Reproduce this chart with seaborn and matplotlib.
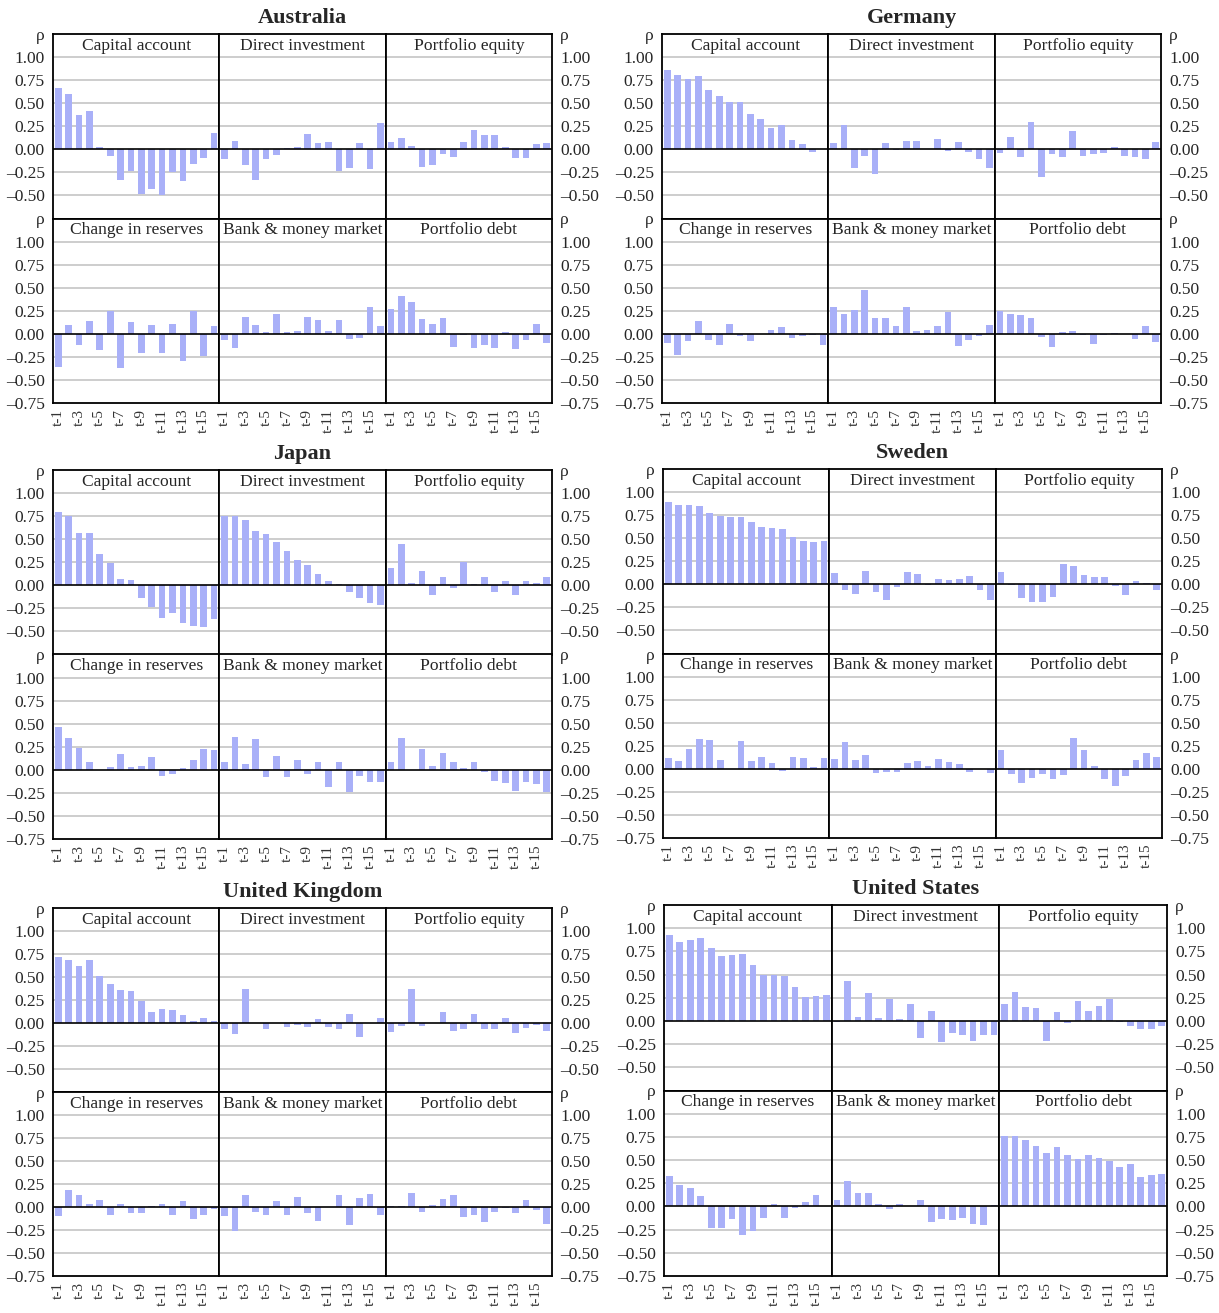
import matplotlib
matplotlib.use("Agg")
import matplotlib.pyplot as plt
import seaborn as sns
import pandas as pd

sns.set_style("white")
plt.rcParams['font.family'] = ['Liberation Serif', 'DejaVu Serif']

lags = [f"t-{i}" for i in range(1, 17)]
categories = ["Capital account", "Direct investment", "Portfolio equity",
              "Change in reserves", "Bank & money market", "Portfolio debt"]

# autocorrelations (rho) by lag
australia = {
    "Capital account": [0.66, 0.60, 0.37, 0.42, 0.02, -0.07, -0.33, -0.23, -0.48, -0.43, -0.50, -0.25, -0.34, -0.16, -0.09, 0.18],
    "Direct investment": [-0.10, 0.09, -0.17, -0.33, -0.11, -0.06, 0.01, 0.03, 0.17, 0.07, 0.08, -0.24, -0.20, 0.07, -0.21, 0.28],
    "Portfolio equity": [0.08, 0.12, 0.04, -0.19, -0.17, -0.05, -0.08, 0.08, 0.21, 0.16, 0.15, 0.02, -0.09, -0.09, 0.06, 0.07],
    "Change in reserves": [-0.36, 0.10, -0.12, 0.14, -0.18, 0.25, -0.37, 0.13, -0.21, 0.10, -0.21, 0.11, -0.29, 0.25, -0.24, 0.09],
    "Bank & money market": [-0.07, -0.15, 0.18, 0.10, 0.015, 0.21, 0.025, 0.035, 0.18, 0.145, 0.035, 0.145, -0.06, -0.05, 0.29, 0.09],
    "Portfolio debt": [0.27, 0.41, 0.34, 0.16, 0.11, 0.17, -0.14, -0.01, -0.15, -0.12, -0.15, 0.02, -0.16, -0.07, 0.11, -0.10],
}
germany = {
    "Capital account": [0.86, 0.81, 0.765, 0.80, 0.645, 0.58, 0.515, 0.515, 0.385, 0.33, 0.235, 0.265, 0.10, 0.058, -0.03, 0.0],
    "Direct investment": [0.07, 0.26, -0.20, -0.07, -0.27, 0.07, -0.01, 0.09, 0.09, 0.0, 0.11, -0.02, 0.08, -0.03, -0.11, -0.20],
    "Portfolio equity": [-0.04, 0.13, -0.08, 0.30, -0.30, -0.05, -0.08, 0.20, -0.07, -0.05, -0.04, 0.03, -0.07, -0.08, -0.11, 0.08],
    "Change in reserves": [-0.10, -0.23, -0.08, 0.14, -0.07, -0.12, 0.11, -0.02, -0.08, 0.0, 0.04, 0.07, -0.05, -0.02, -0.01, -0.12],
    "Bank & money market": [0.29, 0.22, 0.26, 0.47, 0.17, 0.17, 0.09, 0.29, 0.03, 0.04, 0.08, 0.24, -0.13, -0.07, -0.02, 0.10],
    "Portfolio debt": [0.25, 0.22, 0.20, 0.17, -0.03, -0.14, 0.02, 0.03, -0.01, -0.11, -0.01, 0.01, 0.0, -0.06, 0.08, -0.09],
}
japan = {
    "Capital account": [0.79, 0.75, 0.565, 0.565, 0.34, 0.24, 0.065, 0.055, -0.14, -0.24, -0.355, -0.30, -0.41, -0.44, -0.45, -0.37],
    "Direct investment": [0.75, 0.75, 0.71, 0.59, 0.555, 0.47, 0.37, 0.27, 0.22, 0.12, 0.045, 0.01, -0.07, -0.14, -0.19, -0.21],
    "Portfolio equity": [0.185, 0.445, 0.02, 0.15, -0.10, 0.09, -0.03, 0.25, 0.01, 0.09, -0.07, 0.045, -0.10, 0.045, 0.03, 0.09],
    "Change in reserves": [0.46, 0.35, 0.24, 0.09, 0.0, 0.03, 0.17, 0.03, 0.04, 0.14, -0.07, -0.04, 0.02, 0.11, 0.23, 0.21],
    "Bank & money market": [0.08, 0.36, 0.065, 0.33, -0.08, 0.15, -0.08, 0.11, -0.04, 0.08, -0.19, 0.08, -0.24, -0.07, -0.13, -0.13],
    "Portfolio debt": [0.08, 0.35, 0.0, 0.23, 0.04, 0.185, 0.08, 0.02, 0.09, -0.02, -0.12, -0.14, -0.23, -0.13, -0.15, -0.24],
}
sweden = {
    "Capital account": [0.895, 0.86, 0.86, 0.85, 0.775, 0.745, 0.73, 0.73, 0.68, 0.62, 0.61, 0.60, 0.515, 0.47, 0.46, 0.47],
    "Direct investment": [0.12, -0.06, -0.11, 0.145, -0.08, -0.165, -0.03, 0.135, 0.11, -0.01, 0.06, 0.05, 0.06, 0.09, -0.06, -0.165],
    "Portfolio equity": [0.135, -0.01, -0.145, -0.19, -0.19, -0.14, 0.22, 0.20, 0.10, 0.08, 0.08, -0.02, -0.12, 0.035, 0.015, -0.06],
    "Change in reserves": [0.12, 0.09, 0.22, 0.325, 0.315, 0.10, 0.0, 0.30, 0.09, 0.13, 0.065, -0.02, 0.13, 0.12, 0.02, 0.12],
    "Bank & money market": [0.11, 0.29, 0.10, 0.15, -0.04, -0.03, -0.03, 0.065, 0.09, 0.03, 0.11, 0.075, 0.055, -0.03, 0.0, -0.05],
    "Portfolio debt": [0.20, -0.06, -0.15, -0.10, -0.06, -0.11, -0.07, 0.335, 0.20, 0.03, -0.11, -0.19, -0.08, 0.10, 0.17, 0.13],
}
united_kingdom = {
    "Capital account": [0.72, 0.685, 0.62, 0.685, 0.51, 0.425, 0.36, 0.35, 0.24, 0.12, 0.15, 0.14, 0.09, 0.02, 0.055, 0.02],
    "Direct investment": [-0.06, -0.12, 0.37, 0.0, -0.07, 0.0, -0.04, -0.02, -0.04, 0.045, -0.04, -0.06, 0.10, -0.15, 0.0, 0.055],
    "Portfolio equity": [-0.10, -0.03, 0.37, -0.03, 0.0, 0.12, -0.09, -0.06, 0.10, -0.07, -0.07, 0.05, -0.11, -0.05, -0.02, -0.09],
    "Change in reserves": [-0.10, 0.18, 0.135, 0.03, 0.08, -0.09, 0.03, -0.07, -0.06, 0.015, 0.03, -0.09, 0.07, -0.135, -0.09, -0.02],
    "Bank & money market": [-0.10, -0.26, 0.135, -0.05, -0.09, 0.07, -0.09, 0.11, -0.07, -0.155, 0.0, 0.13, -0.195, 0.10, 0.145, -0.09],
    "Portfolio debt": [0.015, 0.015, 0.155, -0.05, 0.025, 0.09, 0.13, -0.11, -0.09, -0.165, -0.05, -0.01, -0.07, 0.075, -0.03, -0.18],
}
united_states = {
    "Capital account": [0.93, 0.855, 0.875, 0.89, 0.79, 0.70, 0.715, 0.725, 0.605, 0.495, 0.495, 0.485, 0.365, 0.255, 0.27, 0.28],
    "Direct investment": [-0.01, 0.43, 0.04, 0.30, 0.03, 0.235, 0.02, 0.18, -0.185, 0.105, -0.23, -0.13, -0.15, -0.215, -0.15, -0.15],
    "Portfolio equity": [0.18, 0.31, 0.15, 0.14, -0.215, 0.095, -0.02, 0.215, 0.105, 0.16, 0.235, -0.01, -0.05, -0.085, -0.085, -0.055],
    "Change in reserves": [0.33, 0.235, 0.20, 0.115, -0.23, -0.23, -0.14, -0.31, -0.27, -0.13, 0.03, -0.13, -0.02, 0.05, 0.125, 0.0],
    "Bank & money market": [0.07, 0.27, 0.14, 0.15, 0.03, -0.03, 0.03, 0.0, 0.07, -0.165, -0.14, -0.15, -0.12, -0.185, -0.195, 0.015],
    "Portfolio debt": [0.755, 0.755, 0.72, 0.65, 0.575, 0.64, 0.555, 0.51, 0.555, 0.52, 0.49, 0.425, 0.455, 0.315, 0.335, 0.35],
}

# (name, data, box in pixels: left, right, top, bottom)
countries = [
    ("Australia", australia, (53, 552, 34, 403)),
    ("Germany", germany, (662, 1161, 34, 403)),
    ("Japan", japan, (53, 552, 470, 839)),
    ("Sweden", sweden, (663, 1162, 469, 838)),
    ("United Kingdom", united_kingdom, (53, 552, 908, 1276)),
    ("United States", united_states, (664, 1167, 905, 1276)),
]

W, H = 1219, 1313
BAR = "#a9b0f8"
GRID = "#c0c0c0"
yticks = [-0.75, -0.5, -0.25, 0.0, 0.25, 0.5, 0.75, 1.0, 1.25]


def fmt(v):
    s = f"{abs(v):.2f}"
    return "\u2013" + s if v < 0 else s


fig = plt.figure(figsize=(W / 100, H / 100), dpi=100)

for name, data, (left, right, top, bottom) in countries:
    cw = (right - left) / 3
    rh = (bottom - top) / 2
    fig.text((left + right) / 2 / W, 1 - (top - 16) / H, name,
             ha="center", va="center", fontsize=16, fontweight="bold")
    for k, cat in enumerate(categories):
        r, c = divmod(k, 3)
        ax = fig.add_axes([(left + c * cw) / W, 1 - (top + (r + 1) * rh) / H,
                           cw / W, rh / H])
        ax.set_axisbelow(True)
        df = pd.DataFrame({"lag": lags, "rho": data[cat]})
        sns.barplot(data=df, x="lag", y="rho", ax=ax, color=BAR,
                    saturation=1, width=0.64, linewidth=0, edgecolor=BAR)
        for p in ax.patches:
            p.set_zorder(2)
        ax.set_xlim(-0.5, 15.5)
        ax.set_ylim(-0.75, 1.25)
        ax.set_xlabel("")
        ax.set_ylabel("")
        for g in [-0.5, -0.25, 0.25, 0.5, 0.75, 1.0]:
            ax.axhline(g, color=GRID, lw=1.1, zorder=0.5)
        ax.axhline(0, color="black", lw=1.2, zorder=3)
        ax.text(7.5, 1.125, cat, ha="center", va="center", fontsize=12.6, zorder=4)
        for sp in ax.spines.values():
            sp.set_color("black")
            sp.set_linewidth(1.3)
            sp.set_zorder(5)

        ax.set_yticks(yticks)
        labels = [fmt(v) for v in yticks[:-1]] + ["\u03c1"]
        if r == 0:
            labels[0] = ""
        ax.set_yticklabels(labels, fontsize=12.5)
        ax.tick_params(axis="y", length=0, pad=6)
        if c == 0:
            ax.tick_params(axis="y", labelleft=True, labelright=False)
        elif c == 1:
            ax.tick_params(axis="y", labelleft=False, labelright=False)
        else:
            ax.tick_params(axis="y", labelleft=False, labelright=True)

        ax.set_xticks(range(16))
        if r == 1:
            ax.set_xticklabels([lab if i % 2 == 0 else "" for i, lab in enumerate(lags)],
                               rotation=90, fontsize=11, color="#333333")
            ax.tick_params(axis="x", direction="in", length=5, width=1, pad=4)
        else:
            ax.tick_params(axis="x", length=0, labelbottom=False)

fig.savefig("out.png", dpi=100)
